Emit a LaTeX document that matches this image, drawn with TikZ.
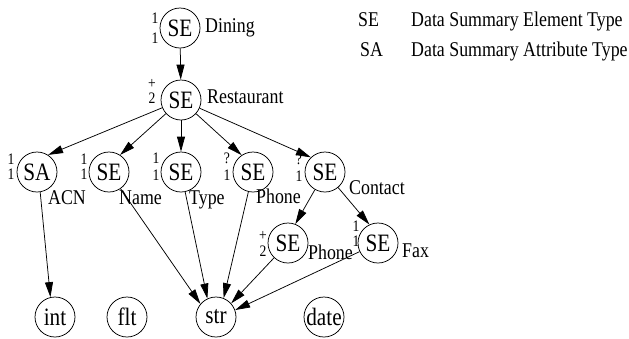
\documentclass[tikz,border=0pt]{standalone}
\usepackage{fontspec}
\setmainfont[FakeStretch=0.85]{Liberation Serif}
\usetikzlibrary{arrows.meta}
\begin{document}
\begin{tikzpicture}[x=1pt,y=-1pt,
  cnode/.style={draw, circle, minimum size=40pt, inner sep=0pt, line width=0.75pt, font=\fontsize{25}{25}\selectfont},
  lbl/.style={inner sep=0pt, anchor=base west, font=\fontsize{21}{21}\selectfont},
  mult/.style={inner sep=0pt, align=center, font=\fontsize{16}{15}\selectfont},
  arr/.style={-{Triangle[length=15pt,width=8pt]}, line width=0.75pt}]
\useasboundingbox (0,0) rectangle (629,338);
% circles
\node[cnode] (dining)  at (180,28)  {SE};
\node[cnode] (rest)    at (181,100) {SE};
\node[cnode] (sa)      at (37,172)  {SA};
\node[cnode] (name)    at (109,172) {SE};
\node[cnode] (type)    at (181,172) {SE};
\node[cnode] (phone)   at (253,172) {SE};
\node[cnode] (contact) at (325,172) {SE};
\node[cnode] (phone2)  at (288,243) {SE};
\node[cnode] (fax)     at (378,243) {SE};
\node[cnode] (int)     at (55,317)  {int};
\node[cnode] (flt)     at (127,317) {flt};
\node[cnode] (str)     at (216,317) {str};
\node[cnode] (date)    at (324,317) {date};
% names
\node[lbl] (lDining)  at (205,32)  {Dining};
\node[lbl] (lRest)    at (207,103) {Restaurant};
\node[lbl] (lAcn)     at (48,204)  {ACN};
\node[lbl] (lName)    at (119,204) {Name};
\node[lbl] (lType)    at (189,204) {Type};
\node[lbl] (lPhone)   at (256,203) {Phone};
\node[lbl] (lContact) at (349,194) {Contact};
\node[lbl] (lPhone2)  at (308,259) {Phone};
\node[lbl] (lFax)     at (402,257) {Fax};
% multiplicities
\node[mult] (m1) at (155,28)    {1\\[5pt]1};
\node[mult] (m2) at (152,91)    {\vphantom{1}+\\2};
\node[mult] (m3) at (11,166.5)  {1\\1};
\node[mult] (m4) at (84,166.5)  {1\\1};
\node[mult] (m5) at (156,166.5) {1\\[2pt]1};
\node[mult] (m6) at (227,166.5) {?\\[2pt]1};
\node[mult] (m7) at (299,167.5) {?\\[2pt]1};
\node[mult] (m8) at (263,243)   {\vphantom{1}+\\[1pt]2};
\node[mult] (m9) at (356,234)   {1\\1};
% legend
\node[lbl] (kSE)  at (358,26) {SE};
\node[lbl] (tSE)  at (411,26) {Data Summary Element Type};
\node[lbl] (kSA)  at (360,56) {SA};
\node[lbl] (tSA)  at (411,56) {Data Summary Attribute Type};
% edges
\draw[arr] (dining) -- (rest);
\draw[arr] (rest) -- (sa.57);
\draw[arr] (rest) -- (name.57);
\draw[arr] (rest) -- (type);
\draw[arr] (rest) -- (phone.124);
\draw[arr] (rest) -- (contact.134);
\draw[arr] (sa.-81) -- (int.103);
\draw[arr] (name) -- (str.140);
\draw[arr] (type) -- (str.115);
\draw[arr] (phone) -- (str.68);
\draw[arr] (contact) -- (phone2.69);
\draw[arr] (contact) -- (fax.115);
\draw[arr] (phone2) -- (str.42);
\draw[arr] (fax) -- (str.20);
\end{tikzpicture}
\end{document}
